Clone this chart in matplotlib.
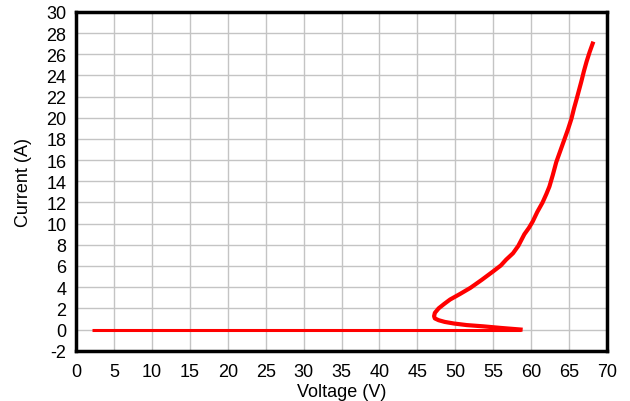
import numpy as np
import matplotlib
matplotlib.use('Agg')
import matplotlib.pyplot as plt

plt.rcParams['font.family'] = ['Liberation Sans', 'DejaVu Sans']
plt.rcParams['axes.unicode_minus'] = False

# flat part at zero current
flat_v = [2.1, 58.6]
flat_i = [0.0, 0.0]

# return branch and rising IV curve
curve_v = [58.6, 56.0, 53.7, 51.5, 49.8, 48.6, 47.8, 47.3, 47.2, 47.3, 47.8,
           48.5, 49.3, 50.6, 52.0, 53.5, 55.0, 56.0, 56.7, 57.6, 58.3,
           59.1, 59.7, 60.2, 60.8, 61.5, 62.0, 62.4, 62.85, 63.3, 63.85, 64.4,
           64.85, 65.3, 65.65, 66.0, 66.3, 66.6, 66.95, 67.3, 67.7, 68.1]
curve_i = [0.0, 0.15, 0.3, 0.42, 0.57, 0.72, 0.88, 1.05, 1.26, 1.57, 2.0,
           2.4, 2.83, 3.35, 3.94, 4.7, 5.5, 6.05, 6.6, 7.2, 7.9,
           9.0, 9.6, 10.2, 11.1, 12.0, 12.8, 13.5, 14.6, 15.8, 16.9, 18.0,
           18.9, 19.9, 20.9, 21.8, 22.6, 23.4, 24.4, 25.3, 26.2, 27.0]

xticks = np.arange(0, 71, 5)
yticks = np.arange(-2, 31, 2)

fig = plt.figure(figsize=(6.3, 4.02), dpi=100)
ax = fig.add_axes([0.1206, 0.1251, 0.843, 0.843])

ax.plot(flat_v, flat_i, color='#ff0000', lw=2.2, solid_capstyle='butt')
ax.plot(curve_v, curve_i, color='#ff0000', lw=3.0, solid_joinstyle='round')

ax.set_xlim(0, 70)
ax.set_ylim(-2, 30)
ax.set_xticks(xticks)
ax.set_yticks(yticks)
ax.grid(True, color='#c4c4c4', lw=1.0)
ax.set_axisbelow(True)
ax.tick_params(length=0, labelsize=13)
ax.tick_params(axis='x', pad=9)
ax.tick_params(axis='y', pad=7)
for sp in ax.spines.values():
    sp.set_linewidth(2.5)
    sp.set_color('black')

ax.set_xlabel('Voltage (V)', fontsize=13, labelpad=2)
ax.set_ylabel('Current (A)', fontsize=13, labelpad=10)

fig.savefig('out.png', dpi=100)
